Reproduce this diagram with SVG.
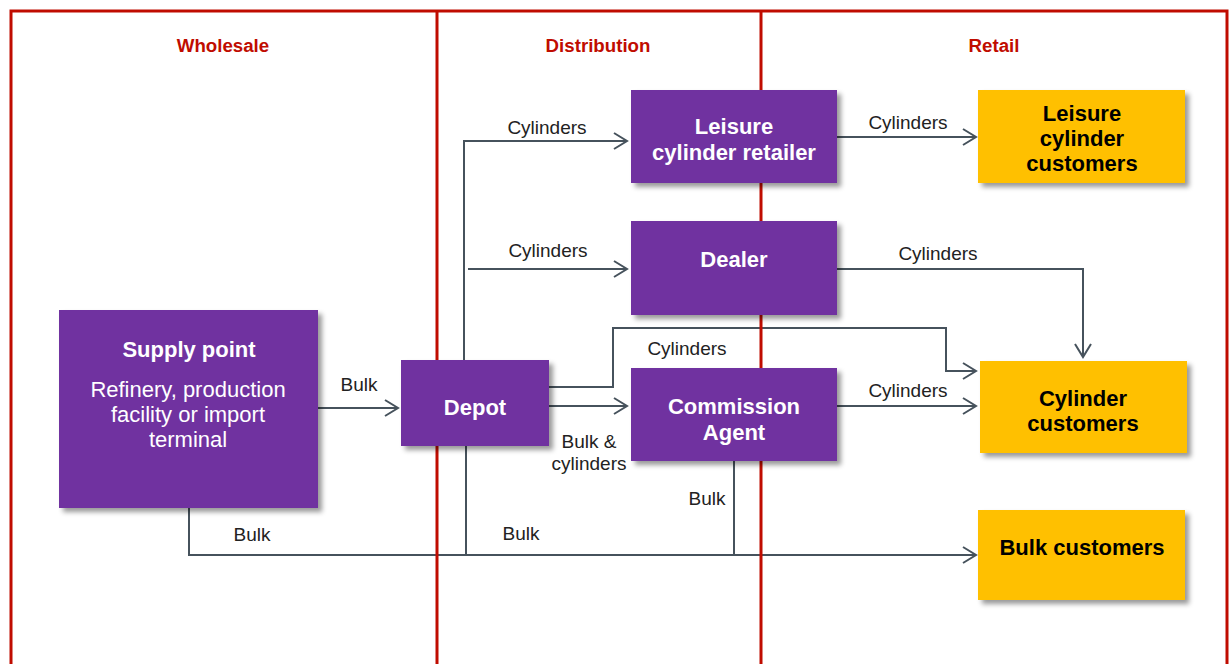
<svg xmlns="http://www.w3.org/2000/svg" width="1232" height="664" viewBox="0 0 1232 664">
<style>
.frame{fill:none;stroke:#C00C00;stroke-width:3}
.title{font-family:"Liberation Sans",Arial,sans-serif;font-size:18.7px;font-weight:bold;fill:#C00C00;text-anchor:middle}
.conn{fill:none;stroke:#46525c;stroke-width:2}
.lbl{font-family:"Liberation Sans",Arial,sans-serif;font-size:19px;fill:#222;text-anchor:middle}
.p{fill:#7030A0}
.y{fill:#FFC000}
.pt{font-family:"Liberation Sans",Arial,sans-serif;font-size:22px;font-weight:bold;fill:#fff;text-anchor:middle}
.ptr{font-family:"Liberation Sans",Arial,sans-serif;font-size:22px;fill:#fff;text-anchor:middle}
.yt{font-family:"Liberation Sans",Arial,sans-serif;font-size:22px;font-weight:bold;fill:#000;text-anchor:middle}
</style>
<defs>
<marker id="arr" viewBox="-14 -10 16 20" refX="0" refY="0" markerWidth="16" markerHeight="20" markerUnits="userSpaceOnUse" orient="auto">
<path d="M-13,-8 L0,0 L-13,8" fill="none" stroke="#46525c" stroke-width="2"/>
</marker>
<filter id="sh" x="-10%" y="-10%" width="130%" height="130%">
<feDropShadow dx="4" dy="4" stdDeviation="2.5" flood-color="#000" flood-opacity="0.4"/>
</filter>
</defs>
<rect width="1232" height="664" fill="#fff"/>
<g id="connectors">
<path class="conn" d="M318,408 H398" marker-end="url(#arr)"/>
<path class="conn" d="M189,508 V555 H976" marker-end="url(#arr)"/>
<path class="conn" d="M466,446 V555"/>
<path class="conn" d="M734,461 V555"/>
<path class="conn" d="M464,360 V141 H627" marker-end="url(#arr)"/>
<path class="conn" d="M468,269 H627" marker-end="url(#arr)"/>
<path class="conn" d="M549,387 H613 V328 H946 V371 H976" marker-end="url(#arr)"/>
<path class="conn" d="M549,406 H627" marker-end="url(#arr)"/>
<path class="conn" d="M837,406 H976" marker-end="url(#arr)"/>
<path class="conn" d="M837,269 H1083 V357" marker-end="url(#arr)"/>
<path class="conn" d="M837,137 H976" marker-end="url(#arr)"/>
<text class="lbl" x="359" y="391">Bulk</text>
<text class="lbl" x="252" y="541">Bulk</text>
<text class="lbl" x="521" y="540">Bulk</text>
<text class="lbl" x="707" y="505">Bulk</text>
<text class="lbl" x="547" y="134">Cylinders</text>
<text class="lbl" x="548" y="257">Cylinders</text>
<text class="lbl" x="687" y="355">Cylinders</text>
<text class="lbl" x="589" y="448">Bulk &amp;</text>
<text class="lbl" x="589" y="470">cylinders</text>
<text class="lbl" x="908" y="397">Cylinders</text>
<text class="lbl" x="938" y="260">Cylinders</text>
<text class="lbl" x="908" y="129">Cylinders</text>
</g>
<g id="frame">
<path class="frame" d="M11,670 V11 H1227 V670"/>
<line class="frame" x1="437" y1="11" x2="437" y2="670"/>
<line class="frame" x1="761" y1="11" x2="761" y2="670"/>
<text class="title" x="223" y="52">Wholesale</text>
<text class="title" x="598" y="52">Distribution</text>
<text class="title" x="994" y="52">Retail</text>
</g>
<g id="supply">
<rect class="p" x="59" y="310" width="259" height="198" filter="url(#sh)"/>
<text class="pt" x="189" y="357">Supply point</text>
<text class="ptr" x="188" y="397">Refinery, production</text>
<text class="ptr" x="188" y="422">facility or import</text>
<text class="ptr" x="188" y="447">terminal</text>
</g>
<g id="depot">
<rect class="p" x="401" y="360" width="148" height="86" filter="url(#sh)"/>
<text class="pt" x="475" y="415">Depot</text>
</g>
<g id="leisure-retailer">
<rect class="p" x="631" y="90" width="206" height="93" filter="url(#sh)"/>
<text class="pt" x="734" y="134">Leisure</text>
<text class="pt" x="734" y="160">cylinder retailer</text>
</g>
<g id="dealer">
<rect class="p" x="631" y="221" width="206" height="94" filter="url(#sh)"/>
<text class="pt" x="734" y="267">Dealer</text>
</g>
<g id="commission">
<rect class="p" x="631" y="368" width="206" height="93" filter="url(#sh)"/>
<text class="pt" x="734" y="414">Commission</text>
<text class="pt" x="734" y="440">Agent</text>
</g>
<g id="leisure-customers">
<rect class="y" x="978" y="90" width="207" height="93" filter="url(#sh)"/>
<text class="yt" x="1082" y="121">Leisure</text>
<text class="yt" x="1082" y="146">cylinder</text>
<text class="yt" x="1082" y="171">customers</text>
</g>
<g id="cylinder-customers">
<rect class="y" x="980" y="361" width="207" height="92" filter="url(#sh)"/>
<text class="yt" x="1083" y="406">Cylinder</text>
<text class="yt" x="1083" y="431">customers</text>
</g>
<g id="bulk-customers">
<rect class="y" x="978" y="510" width="207" height="90" filter="url(#sh)"/>
<text class="yt" x="1082" y="555">Bulk customers</text>
</g>
</svg>
